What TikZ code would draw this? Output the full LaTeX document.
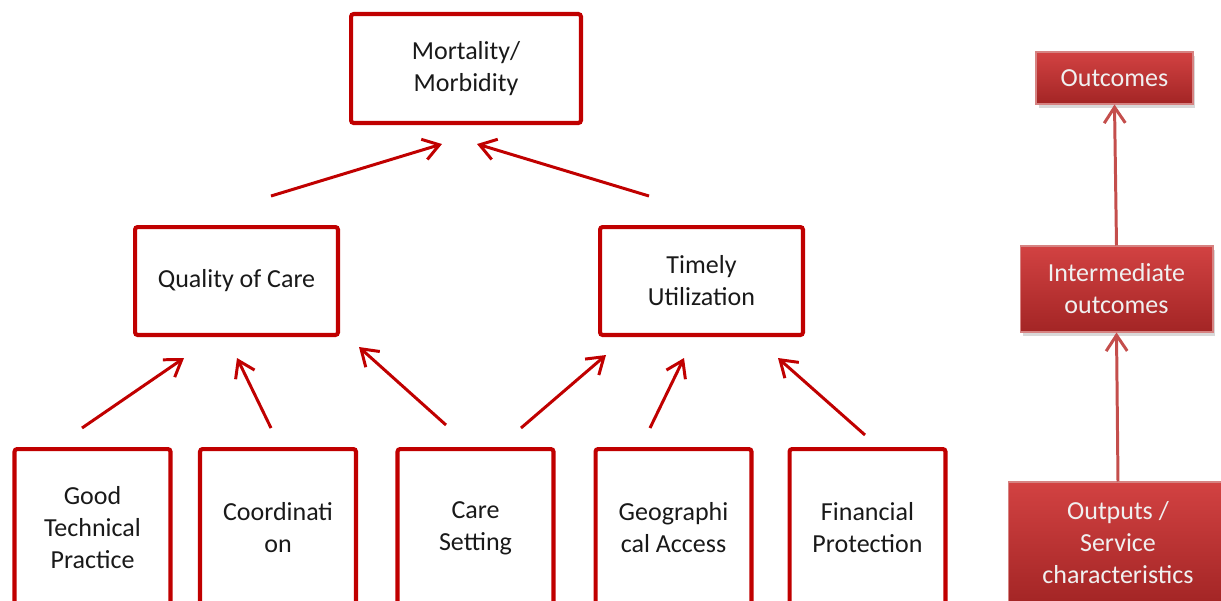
\documentclass[tikz,border=0pt]{standalone}
\usepackage{fontspec}
\setmainfont{Carlito}
\usetikzlibrary{arrows.meta,shadows}

\definecolor{framered}{RGB}{192,0,0}
\definecolor{keytop}{RGB}{210,66,66}
\definecolor{keybot}{RGB}{163,37,37}
\definecolor{keyline}{RGB}{196,78,76}
\definecolor{inktext}{RGB}{25,25,25}

\tikzset{
	frame/.style={draw=framered, line width=2.3pt, rounded corners=1.5pt,
		align=center, text=inktext, inner sep=0pt},
	keybox/.style={draw=keyline!70!white, line width=0.6pt,
		top color=keytop, bottom color=keybot, text=white!94!black,
		align=center, inner sep=0pt,
		drop shadow={opacity=0.3, shadow xshift=0.05cm, shadow yshift=-0.07cm}},
	link/.style={draw=framered, line width=1.7pt,
		-{Straight Barb[length=9pt,width=12pt]}},
	keylink/.style={draw=keyline, line width=1.7pt,
		-{Straight Barb[length=9pt,width=12pt]}},
}

\begin{document}
\begin{tikzpicture}[x=0.02cm, y=-0.02cm,
	every node/.style={font=\fontsize{14.8}{18.2}\selectfont}]
		% Drawing units are the pixels of a 1221x600 page, y downwards.
		\clip (0,0) rectangle (1221,600);

		% Top of the tree.
		\node[frame, minimum width=4.6cm, minimum height=2.18cm]
			(mort) at (466,68.5) {Mortality/\\Morbidity};

		% Middle level.
		\node[frame, minimum width=4.06cm, minimum height=2.16cm]
			(quality) at (236.5,281) {Quality of Care};
		\node[frame, minimum width=4.06cm, minimum height=2.16cm]
			(timely) at (701.5,281) {Timely\\Utilization};

		% Bottom level, cut by the lower edge of the page.
		\node[frame, minimum width=3.12cm, minimum height=3.16cm]
			(good) at (92.5,528) {Good\\Technical\\Practice};
		\node[frame, minimum width=3.12cm, minimum height=3.16cm]
			(coord) at (278,528) {Coordinati\\on};
		\node[frame, minimum width=3.12cm, minimum height=3.16cm]
			(setting) at (475.5,528) {Care\\Setting};
		\node[frame, minimum width=3.12cm, minimum height=3.16cm]
			(geo) at (673.5,528) {Geographi\\cal Access};
		\node[frame, minimum width=3.12cm, minimum height=3.16cm]
			(finance) at (867.5,528) {Financial\\Protection};

		% The arrows float in the gaps between the levels.
		\coordinate (qm-a) at (271,196);  \coordinate (qm-b) at (442,144);
		\coordinate (tm-a) at (649,196);  \coordinate (tm-b) at (477,144);
		\coordinate (gq-a) at (82,428);   \coordinate (gq-b) at (184,358);
		\coordinate (cq-a) at (271,428);  \coordinate (cq-b) at (237,358);
		\coordinate (sq-a) at (446,425);  \coordinate (sq-b) at (359,347);
		\coordinate (st-a) at (521,428);  \coordinate (st-b) at (606,355);
		\coordinate (at-a) at (650,428);  \coordinate (at-b) at (684,358);
		\coordinate (ft-a) at (865,435);  \coordinate (ft-b) at (778,358);

		\foreach \p in {qm,tm,gq,cq,sq,st,at,ft} {
			\draw[link] (\p-a) -- (\p-b);
		}

		% Key on the right.
		\node[keybox, minimum width=3.14cm, minimum height=1.04cm]
			(outcomes) at (1114.5,78) {Outcomes};
		\node[keybox, minimum width=3.86cm, minimum height=1.72cm]
			(interm) at (1116.5,289) {Intermediate\\outcomes};
		\node[keybox, minimum width=4.4cm, minimum height=2.44cm]
			(outputs) at (1118,543) {Outputs /\\Service\\characteristics};

		\draw[keylink] (interm.north) -- (outcomes.south);
		\draw[keylink] (outputs.north) -- (interm.south);
	\end{tikzpicture}
\end{document}
